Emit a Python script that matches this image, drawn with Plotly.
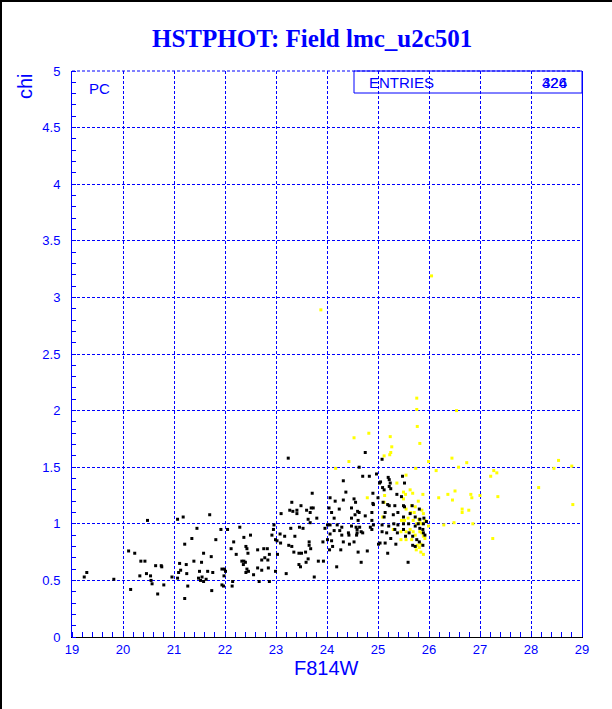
import plotly.graph_objects as go

# ---------------- data ----------------
black_mag = [
    19.24, 19.29, 19.82, 20.48, 20.11, 20.23, 20.35, 20.43, 20.33, 20.15,
    20.46, 20.54, 20.55, 20.57, 20.64, 20.75, 20.76, 20.68, 20.80, 20.96,
    21.07, 21.18, 21.21, 21.45, 21.35, 21.11, 21.13, 21.09, 21.07, 21.24,
    21.25, 21.27, 21.21, 21.39, 21.50, 21.54, 21.58, 21.48, 21.55, 21.52,
    21.58, 21.63, 21.66, 21.70, 21.74, 21.76, 21.73, 21.82, 21.92, 21.94,
    21.99, 22.01, 21.98, 21.94, 21.97, 22.05, 22.15, 22.14, 22.17, 22.12,
    22.22, 22.29, 22.37, 22.41, 22.43, 22.45, 22.33, 22.37, 22.40, 22.36,
    22.43, 22.46, 22.41, 22.50, 22.56, 22.64, 22.67, 22.64, 22.72, 22.72,
    22.78, 22.84, 22.76, 22.83, 22.87, 22.85, 22.87, 22.92, 22.95, 22.96,
    22.99, 23.02, 23.03, 22.99, 23.08, 23.09, 23.10, 23.17, 23.20, 23.25,
    23.31, 23.37, 23.35, 23.27, 23.31, 23.33, 23.29, 23.41, 23.41, 23.46,
    23.53, 23.45, 23.50, 23.45, 23.48, 23.49, 23.58, 23.60, 23.67, 23.69,
    23.63, 23.67, 23.65, 23.65, 23.63, 23.59, 23.68, 23.73, 23.75, 23.80,
    23.83, 23.24, 23.71,
    24.06, 24.16, 24.37, 24.32, 24.32, 24.70, 24.83, 24.97, 24.53, 24.56,
    24.04, 24.09, 24.24, 24.48, 24.60, 24.63, 24.55, 24.75, 24.88, 24.91,
    25.00, 24.14, 24.48, 24.61, 24.88, 24.01, 24.06, 24.20, 24.29, 24.48,
    24.57, 24.59, 24.64, 24.85, 24.91, 23.96, 24.06, 24.14, 24.29, 24.25,
    24.42, 24.43, 24.59, 24.58, 24.67, 24.70, 24.88, 23.92, 24.01, 24.09,
    24.11, 24.32, 24.44, 24.53, 24.61, 24.79, 25.01, 24.05, 24.27, 24.19,
    25.09, 25.12, 25.05, 25.24, 25.22, 25.48, 25.52, 25.37, 25.46, 24.90,
    24.90, 25.10, 25.19, 25.22, 25.33, 25.50, 25.52, 25.67, 25.81, 25.14,
    25.12, 25.30, 25.39, 25.50, 25.63, 25.73, 25.82, 25.90, 25.95, 25.89,
    25.08, 25.21, 25.31, 25.39, 25.50, 25.60, 25.73, 25.79, 25.82, 25.88,
    25.89, 25.92, 25.08, 25.17, 25.33, 25.38, 25.50, 25.61, 25.68, 25.76,
    25.81, 25.88, 25.04, 25.14, 25.35, 25.68, 25.73, 25.19, 25.59, 25.25,
    25.54, 24.75, 25.08, 24.63, 25.20, 25.03, 25.22, 25.25, 23.93, 24.67,
]
black_chi = [
    0.53, 0.57, 0.51, 1.03, 0.76, 0.74, 0.67, 0.67, 0.54, 0.42,
    0.56, 0.54, 0.50, 0.47, 0.63, 0.63, 0.62, 0.38, 0.46, 0.53,
    1.04, 1.06, 0.82, 0.96, 0.87, 0.65, 0.59, 0.57, 0.52, 0.64,
    0.56, 0.45, 0.34, 0.67, 0.58, 0.66, 0.74, 0.52, 0.53, 0.50,
    0.49, 0.51, 0.58, 1.08, 0.41, 0.57, 0.71, 0.86, 0.95, 0.60,
    0.60, 0.58, 0.54, 0.46, 0.45, 0.95, 0.49, 0.45, 0.84, 0.78,
    0.73, 0.97, 0.88, 0.80, 0.78, 0.74, 0.67, 0.67, 0.66, 0.64,
    0.60, 0.58, 0.57, 0.90, 0.55, 0.77, 0.49, 0.61, 0.59, 0.68,
    0.70, 0.68, 0.78, 0.78, 0.73, 0.61, 0.49, 0.90, 0.95, 0.99,
    0.86, 0.85, 0.73, 0.58, 0.91, 0.83, 1.09, 0.89, 0.56, 0.81,
    0.80, 0.89, 0.75, 1.12, 1.19, 1.11, 0.96, 1.12, 1.09, 0.97,
    0.96, 0.74, 0.74, 0.64, 0.62, 1.16, 0.75, 1.12, 1.10, 1.14,
    1.04, 1.01, 0.84, 0.81, 0.69, 0.66, 0.78, 1.14, 0.53, 1.05,
    0.67, 1.58, 1.27,
    1.23, 1.20, 1.28, 1.21, 1.38, 1.42, 1.42, 1.44, 1.22, 1.19,
    1.14, 1.10, 1.13, 1.14, 1.11, 1.10, 1.08, 1.07, 1.10, 1.17,
    1.23, 1.05, 1.05, 1.03, 1.03, 0.99, 0.99, 0.99, 0.97, 0.98,
    0.97, 0.95, 0.97, 0.97, 0.99, 0.96, 0.91, 0.94, 0.90, 0.94,
    0.92, 0.90, 0.92, 0.90, 0.93, 0.92, 0.95, 0.84, 0.86, 0.85,
    0.80, 0.84, 0.82, 0.84, 0.75, 0.76, 0.82, 0.77, 0.77, 0.62,
    1.32, 1.30, 1.37, 1.36, 1.33, 1.42, 1.36, 1.26, 1.24, 1.27,
    1.18, 1.19, 1.17, 1.16, 1.16, 1.16, 1.15, 1.16, 1.13, 1.10,
    1.06, 1.08, 1.10, 1.06, 1.09, 1.06, 1.04, 1.05, 1.02, 1.00,
    0.99, 0.98, 1.00, 0.99, 1.00, 1.00, 0.98, 1.00, 0.96, 0.95,
    0.92, 0.90, 0.93, 0.92, 0.95, 0.92, 0.95, 0.92, 0.89, 0.86,
    0.84, 0.81, 0.83, 0.83, 0.82, 0.81, 0.80, 0.74, 0.66, 0.87,
    0.89, 1.63, 1.57, 1.50, 1.41, 1.36, 1.39, 1.31, 0.67, 0.66,
]

yellow_mag = [
    26.05, 23.88, 25.76, 25.76, 26.54, 25.77, 24.82, 24.53, 25.24, 25.82,
    25.27, 25.25, 25.23, 25.12, 24.43, 26.45, 26.14, 26.58, 24.17, 25.74,
    25.55, 26.74, 27.27, 27.33, 27.21, 26.51, 26.37, 26.46, 26.19, 26.82,
    26.84, 27.00, 27.35, 26.65, 26.65, 26.78, 26.49, 26.29, 26.86, 27.25,
    28.54, 28.45, 28.80, 28.15, 28.82, 25.99,
    25.37, 25.13, 25.12, 25.50, 25.54, 25.63, 25.68, 25.88, 25.79, 25.50,
    25.66, 25.73, 25.55, 25.64, 25.71, 25.86, 25.89, 25.80, 25.09, 25.46,
    25.52, 25.59, 25.69, 25.76, 25.82, 25.86, 25.92, 25.30, 25.45, 25.55,
    25.63, 25.69, 25.73, 25.82, 25.86, 25.89, 25.92, 25.45, 25.55, 25.66,
    25.77, 25.81, 25.84, 25.84, 25.89, 25.75, 24.79, 25.99,
]
yellow_chi = [
    3.19, 2.89, 2.11, 2.01, 2.00, 1.86, 1.80, 1.76, 1.77, 1.71,
    1.68, 1.63, 1.61, 1.60, 1.55, 1.58, 1.47, 1.50, 1.49, 1.49,
    1.43, 1.54, 1.47, 1.45, 1.42, 1.29, 1.26, 1.21, 1.23, 1.26,
    1.23, 1.25, 1.24, 1.13, 1.10, 1.12, 1.01, 0.99, 1.00, 0.87,
    1.56, 1.49, 1.51, 1.32, 1.17, 1.55,
    1.36, 1.25, 1.19, 1.28, 1.26, 1.30, 1.27, 1.26, 1.20, 1.22,
    1.16, 1.15, 1.13, 1.10, 1.10, 1.12, 1.09, 1.04, 1.06, 1.03,
    1.03, 1.05, 1.03, 1.00, 1.01, 1.00, 1.03, 0.95, 0.93, 0.93,
    0.95, 0.93, 0.90, 0.93, 0.92, 0.89, 0.87, 0.86, 0.86, 0.86,
    0.81, 0.79, 0.82, 0.75, 0.73, 0.77, 1.23, 0.98,
]

x_tick_vals = [19, 20, 21, 22, 23, 24, 25, 26, 27, 28, 29]
y_tick_vals = [0, 0.5, 1, 1.5, 2, 2.5, 3, 3.5, 4, 4.5, 5]
y_tick_text = ["0", "0.5", "1", "1.5", "2", "2.5", "3", "3.5", "4", "4.5", "5"]
entries_counts = ["424", "326"]

# ---------------- layout geometry ----------------
W, H = 612, 709
L, R, T, B = 72, 30, 71, 72
PW, PH = W - L - R, H - T - B
BLUE = "#0000ff"
SANS = "Liberation Sans, Arial, Helvetica, sans-serif"
DASH = "3px,2px"


def px(x):
    return (x - L) / PW


def py(y):
    return (H - B - y) / PH


fig = go.Figure()
fig.add_trace(go.Scatter(
    x=yellow_mag, y=yellow_chi, mode="markers",
    marker=dict(symbol="square", size=3, color="#ffff00", line=dict(width=0)),
    hoverinfo="skip"))
fig.add_trace(go.Scatter(
    x=black_mag, y=black_chi, mode="markers",
    marker=dict(symbol="square", size=3, color="#000000", line=dict(width=0)),
    hoverinfo="skip"))

fig.update_layout(
    width=W, height=H,
    margin=dict(l=L, r=R, t=T, b=B, pad=0),
    paper_bgcolor="white", plot_bgcolor="white",
    showlegend=False,
    font=dict(family=SANS, color=BLUE),
)

fig.update_xaxes(
    range=[19, 29], tickmode="array", tickvals=x_tick_vals,
    ticktext=[str(v) for v in x_tick_vals],
    showgrid=True, gridcolor=BLUE, griddash=DASH, gridwidth=1,
    ticks="", showline=True, linecolor="black", linewidth=1, mirror=False,
    zeroline=False, tickfont=dict(family=SANS, size=13, color=BLUE),
    minor=dict(tick0=19, dtick=0.2, ticks="inside", ticklen=5,
               tickcolor=BLUE, tickwidth=1, showgrid=False),
)
fig.update_yaxes(
    range=[0, 5], tickmode="array", tickvals=y_tick_vals, ticktext=y_tick_text,
    showgrid=True, gridcolor=BLUE, griddash=DASH, gridwidth=1,
    ticks="", showline=True, linecolor=BLUE, linewidth=1, mirror=True,
    zeroline=False, tickfont=dict(family=SANS, size=13, color=BLUE),
    ticklabelstandoff=8,
    minor=dict(tick0=0, dtick=0.1, ticks="inside", ticklen=4,
               tickcolor=BLUE, tickwidth=1, showgrid=False),
)

shapes = [
    # top frame (dotted)
    dict(type="line", xref="paper", yref="paper", x0=0, x1=1, y0=1, y1=1,
         line=dict(color=BLUE, width=1, dash=DASH)),
    # statistics box
    dict(type="rect", xref="paper", yref="paper", x0=px(354), x1=1,
         y0=py(93), y1=1, line=dict(color=BLUE, width=1)),
    # outer window border (left and top)
    dict(type="line", xref="paper", yref="paper", x0=px(1), x1=px(1),
         y0=py(0), y1=py(H), line=dict(color="black", width=2)),
    dict(type="line", xref="paper", yref="paper", x0=px(0), x1=px(W),
         y0=py(1), y1=py(1), line=dict(color="black", width=2)),
]
fig.update_layout(shapes=shapes)

ann = [
    dict(text="<b>HSTPHOT: Field lmc_u2c501</b>", x=px(312), y=py(38),
         font=dict(family="Liberation Serif, Times New Roman, serif", size=25, color=BLUE)),
    dict(text="F814W", x=px(326), y=py(668), font=dict(family=SANS, size=20, color=BLUE)),
    dict(text="chi", x=px(25), y=py(86), textangle=-90,
         font=dict(family=SANS, size=20, color=BLUE)),
    dict(text="PC", x=px(99), y=py(88), font=dict(family=SANS, size=15, color=BLUE)),
    dict(text="ENTRIES", x=px(367), y=py(82.5), xanchor="left",
         font=dict(family=SANS, size=15, color=BLUE)),
]
for c in entries_counts:
    ann.append(dict(text=c, x=px(554.5), y=py(82.5),
                    font=dict(family=SANS, size=15, color=BLUE)))
for a in ann:
    a.setdefault("xanchor", "center")
    a.update(xref="paper", yref="paper", yanchor="middle", showarrow=False)
fig.update_layout(annotations=ann)

fig.write_html("out.html",
               config={"displayModeBar": False},
               post_script="document.body.style.margin='0';document.body.style.padding='0';")
